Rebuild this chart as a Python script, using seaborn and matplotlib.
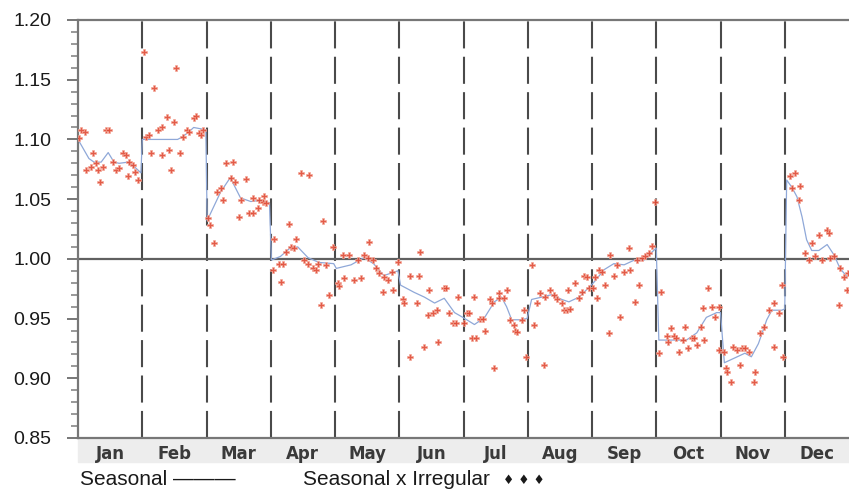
"""Seasonal factors by month: seasonal line plus seasonal x irregular points."""

import numpy as np
import pandas as pd
import matplotlib
matplotlib.use("Agg")
import matplotlib.pyplot as plt
from matplotlib.ticker import MultipleLocator, FormatStrFormatter
from matplotlib.patches import Rectangle
import seaborn as sns

months = ['Jan', 'Feb', 'Mar', 'Apr', 'May', 'Jun',
          'Jul', 'Aug', 'Sep', 'Oct', 'Nov', 'Dec']

# time is in months since 1 Jan (0.5 = middle of January)
# Seasonal x Irregular points
si_t = [
    0.01, 0.05, 0.11, 0.13, 0.20, 0.23, 0.28, 0.31, 0.34, 0.39, 0.44, 0.48, 0.55, 0.59, 0.64, 0.70, 0.75, 0.78, 0.80, 0.86, 0.88, 0.94,
    1.02, 1.06, 1.11, 1.14, 1.19, 1.25, 1.30, 1.31, 1.38, 1.41, 1.45, 1.50, 1.53, 1.58, 1.64, 1.69, 1.73, 1.80, 1.84, 1.88, 1.92, 1.95,
    2.03, 2.06, 2.11, 2.17, 2.22, 2.25, 2.30, 2.38, 2.41, 2.45, 2.50, 2.53, 2.61, 2.66, 2.72, 2.73, 2.80, 2.81, 2.88, 2.89, 2.92,
    3.03, 3.05, 3.13, 3.16, 3.19, 3.23, 3.28, 3.31, 3.36, 3.39, 3.47, 3.52, 3.58, 3.59, 3.66, 3.70, 3.73, 3.78, 3.81, 3.86, 3.91, 3.97,
    4.05, 4.06, 4.13, 4.14, 4.22, 4.30, 4.36, 4.41, 4.45, 4.52, 4.53, 4.59, 4.64, 4.69, 4.75, 4.77, 4.83, 4.88, 4.91, 4.98,
    5.06, 5.08, 5.16, 5.17, 5.27, 5.31, 5.32, 5.39, 5.45, 5.47, 5.53, 5.58, 5.61, 5.69, 5.73, 5.78, 5.84, 5.89, 5.92,
    6.01, 6.05, 6.08, 6.13, 6.17, 6.20, 6.25, 6.31, 6.33, 6.41, 6.44, 6.48, 6.55, 6.56, 6.63, 6.67, 6.72, 6.78, 6.80, 6.83, 6.91, 6.94, 6.98,
    7.06, 7.09, 7.14, 7.19, 7.25, 7.27, 7.34, 7.41, 7.45, 7.53, 7.56, 7.61, 7.62, 7.66, 7.73, 7.80, 7.84, 7.88, 7.92, 7.95,
    8.02, 8.04, 8.08, 8.11, 8.16, 8.20, 8.27, 8.28, 8.34, 8.39, 8.44, 8.50, 8.58, 8.59, 8.67, 8.70, 8.73, 8.78, 8.83, 8.89, 8.94, 8.98,
    9.05, 9.08, 9.16, 9.19, 9.23, 9.28, 9.31, 9.36, 9.42, 9.44, 9.50, 9.55, 9.58, 9.63, 9.70, 9.73, 9.75, 9.81, 9.86, 9.91, 9.97, 9.98,
    10.06, 10.09, 10.10, 10.17, 10.20, 10.25, 10.30, 10.33, 10.38, 10.44, 10.52, 10.53, 10.61, 10.67, 10.75, 10.83, 10.84, 10.91, 10.95, 10.97,
    11.08, 11.11, 11.16, 11.22, 11.23, 11.31, 11.38, 11.42, 11.47, 11.53, 11.58, 11.66, 11.69, 11.70, 11.77, 11.84, 11.86, 11.92, 11.97, 11.99,
]
si_val = [
    1.101, 1.108, 1.106, 1.074, 1.077, 1.089, 1.080, 1.074, 1.064, 1.077, 1.108, 1.108, 1.081, 1.074, 1.076, 1.089, 1.087, 1.069, 1.081, 1.079, 1.073, 1.066,
    1.173, 1.102, 1.104, 1.089, 1.143, 1.108, 1.110, 1.087, 1.119, 1.091, 1.074, 1.115, 1.160, 1.089, 1.102, 1.108, 1.106, 1.118, 1.120, 1.105, 1.104, 1.108,
    1.034, 1.028, 1.013, 1.056, 1.059, 1.049, 1.080, 1.068, 1.081, 1.064, 1.035, 1.049, 1.067, 1.038, 1.051, 1.038, 1.043, 1.049, 1.048, 1.053, 1.047,
    0.991, 1.017, 0.996, 0.981, 0.996, 1.006, 1.029, 1.010, 1.009, 1.017, 1.072, 0.999, 0.996, 1.070, 0.992, 0.991, 0.996, 0.961, 1.032, 0.995, 0.970, 1.010,
    0.980, 0.977, 1.003, 0.984, 1.003, 0.982, 0.999, 0.984, 1.003, 1.001, 1.014, 0.999, 0.992, 0.988, 0.972, 0.985, 0.982, 0.989, 0.974, 0.997,
    0.966, 0.963, 0.986, 0.918, 0.963, 0.986, 1.006, 0.926, 0.953, 0.974, 0.955, 0.957, 0.930, 0.976, 0.976, 0.955, 0.946, 0.946, 0.968,
    0.946, 0.955, 0.955, 0.934, 0.968, 0.934, 0.950, 0.950, 0.940, 0.966, 0.963, 0.909, 0.971, 0.967, 0.967, 0.974, 0.949, 0.945, 0.940, 0.939, 0.949, 0.957, 0.918,
    0.995, 0.945, 0.963, 0.971, 0.911, 0.968, 0.974, 0.970, 0.966, 0.963, 0.957, 0.957, 0.974, 0.958, 0.980, 0.967, 0.972, 0.986, 0.985, 0.976,
    0.976, 0.985, 0.967, 0.991, 0.989, 0.978, 0.938, 1.003, 0.986, 0.995, 0.951, 0.989, 1.009, 0.991, 0.964, 0.999, 0.978, 1.001, 1.002, 1.005, 1.011, 1.048,
    0.921, 0.972, 0.935, 0.930, 0.942, 0.935, 0.934, 0.922, 0.932, 0.943, 0.925, 0.934, 0.934, 0.928, 0.943, 0.959, 0.932, 0.976, 0.960, 0.951, 0.960, 0.924,
    0.922, 0.909, 0.905, 0.897, 0.926, 0.924, 0.911, 0.925, 0.925, 0.922, 0.897, 0.905, 0.938, 0.943, 0.957, 0.963, 0.926, 0.955, 0.978, 0.918,
    1.069, 1.059, 1.072, 1.049, 1.061, 1.005, 0.999, 1.013, 1.002, 1.020, 0.999, 1.024, 1.022, 1.001, 1.002, 0.961, 0.992, 0.985, 0.974, 0.988,
]

# Seasonal factor line
sf_t = [
    0.00, 0.17, 0.25, 0.36, 0.47, 0.56, 0.64, 0.78, 0.88, 0.98,
    1.00, 1.30, 1.55, 1.62, 1.72, 1.80, 1.90, 1.99,
    2.01, 2.22, 2.37, 2.53, 2.69, 2.84, 2.98,
    3.01, 3.15, 3.30, 3.42, 3.58, 3.75, 3.98,
    4.02, 4.25, 4.45, 4.60, 4.76, 4.98,
    5.02, 5.23, 5.39, 5.55, 5.70, 5.86, 5.99,
    6.02, 6.17, 6.33, 6.48, 6.59, 6.67, 6.75, 6.88, 6.99,
    7.06, 7.22, 7.37, 7.53, 7.64, 7.80, 7.95,
    8.04, 8.19, 8.34, 8.50, 8.66, 8.81, 8.94, 9.00,
    9.04, 9.27, 9.47, 9.63, 9.78, 9.94, 10.00,
    10.06, 10.22, 10.38, 10.48, 10.59, 10.72, 10.80, 10.95, 11.00,
    11.03, 11.11, 11.19, 11.27, 11.34, 11.42, 11.53, 11.66, 11.77, 11.86, 11.97,
]
sf_val = [
    1.100, 1.084, 1.081, 1.081, 1.089, 1.081, 1.080, 1.081, 1.077, 1.072,
    1.100, 1.100, 1.100, 1.102, 1.106, 1.110, 1.109, 1.108,
    1.032, 1.056, 1.068, 1.051, 1.048, 1.049, 1.047,
    0.999, 1.002, 1.009, 1.010, 1.001, 0.997, 0.996,
    0.992, 0.995, 1.001, 0.996, 0.986, 0.990,
    0.978, 0.972, 0.968, 0.963, 0.967, 0.955, 0.951,
    0.950, 0.945, 0.951, 0.964, 0.968, 0.960, 0.949, 0.949, 0.950,
    0.966, 0.968, 0.970, 0.966, 0.964, 0.968, 0.976,
    0.981, 0.991, 0.996, 0.995, 0.999, 0.999, 1.006, 1.009,
    0.932, 0.932, 0.932, 0.938, 0.951, 0.955, 0.955,
    0.913, 0.917, 0.921, 0.918, 0.929, 0.949, 0.957, 0.957, 0.958,
    1.066, 1.060, 1.052, 1.035, 1.016, 1.007, 1.007, 1.012, 1.003, 0.992, 0.985,
]

si_df = pd.DataFrame({'t': si_t, 'value': si_val})
sf_df = pd.DataFrame({'t': sf_t, 'value': sf_val})

sns.set_style("white")
plt.rcParams['font.family'] = ['Liberation Sans', 'DejaVu Sans']

fig = plt.figure(figsize=(8.49, 4.90), dpi=100)
ax = fig.add_axes([78 / 849, 1 - 438 / 490, 771 / 849, 418 / 490])

# grey band behind the month labels (drawn under the axes)
fig.patches.append(Rectangle((78 / 849, 1 - 462 / 490), 771 / 849, 24 / 490,
                             transform=fig.transFigure, color='#ededed', zorder=-1))

# month dividers and the 1.00 reference line
for m in range(1, 12):
    ax.axvline(m, color='#4a4a4a', lw=1.5, ls=(0, (13, 4)), zorder=1)
ax.axhline(1.0, color='#606060', lw=1.6, zorder=1)

sns.lineplot(data=sf_df, x='t', y='value', ax=ax, color='#8fa8d8', lw=0.9,
             sort=False, zorder=2)
sns.scatterplot(data=si_df, x='t', y='value', ax=ax, marker='P', s=20,
                color='#e04a35', edgecolor='#f4a898', linewidth=0.5,
                alpha=0.9, zorder=3)

ax.set_xlim(0, 12)
ax.set_ylim(0.85, 1.20)
ax.set_xlabel('')
ax.set_ylabel('')

ax.yaxis.set_major_locator(MultipleLocator(0.05))
ax.yaxis.set_minor_locator(MultipleLocator(0.01))
ax.yaxis.set_major_formatter(FormatStrFormatter('%.2f'))
ax.tick_params(axis='y', which='major', direction='out', length=8, width=1.4,
               color='#777777', labelsize=14, pad=11, labelcolor='#1a1a1a', left=True)
ax.tick_params(axis='y', which='minor', direction='out', length=5, width=1.2,
               color='#888888', left=True)

ax.set_xticks(np.arange(12) + 0.5)
ax.set_xticklabels(months, fontweight='bold', fontsize=12, color='#3a3a3a',
                   family=['DejaVu Sans'])
ax.set_xticks(np.arange(1, 12), minor=True)
ax.tick_params(axis='x', which='major', length=0, pad=5, labelbottom=True)
ax.tick_params(axis='x', which='minor', direction='in', length=8, width=1.2,
               color='#777777', bottom=True)

for side in ['left', 'top', 'bottom']:
    ax.spines[side].set_color('#777777')
    ax.spines[side].set_linewidth(1.6)
ax.spines['right'].set_visible(False)

fig.text(80 / 849, 1 - 479 / 490, 'Seasonal ———', fontsize=15, va='center',
         color='#1a1a1a')
fig.text(303 / 849, 1 - 479 / 490, 'Seasonal x Irregular',
         fontsize=15, va='center', color='#1a1a1a')
fig.text(503 / 849, 1 - 480 / 490, '\u2666 \u2666 \u2666', fontsize=9,
         va='center', color='#1a1a1a', family=['DejaVu Sans'])

fig.savefig('out.png', dpi=100)
